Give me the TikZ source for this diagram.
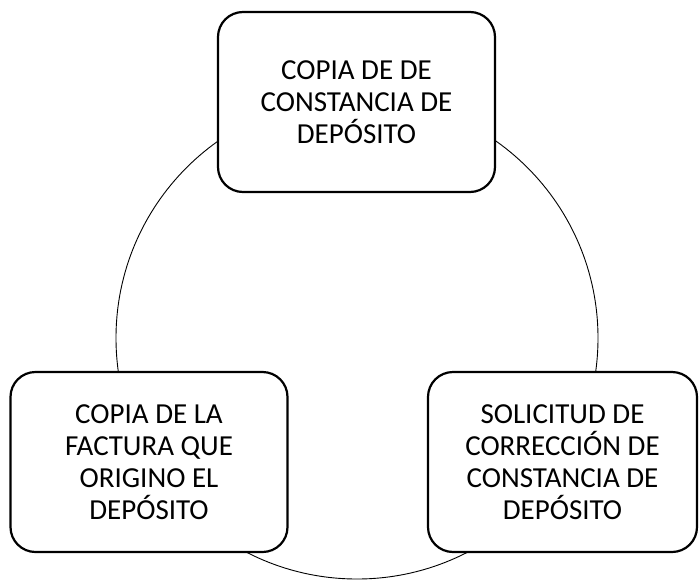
\documentclass[tikz,border=0pt]{standalone}
\usepackage{fontspec}
\setmainfont{Carlito}
\begin{document}
\begin{tikzpicture}[x=1pt,y=-1pt,
  box/.style={draw, line width=2.2pt, rounded corners=25pt, fill=white,
    minimum width=277pt, minimum height=180pt, align=center,
    font=\fontsize{29}{32}\selectfont, inner sep=0pt},
  ring/.style={draw, line width=0.9pt}]
\useasboundingbox (0,0) rectangle (699,581);
\coordinate (c) at (357,338);
\draw[ring] (c) circle[radius=241pt];
\node[box] (top) at (356.5,102) {COPIA DE DE\\CONSTANCIA DE\\DEPÓSITO};
\node[box] (left) at (149,462) {COPIA DE LA\\FACTURA QUE\\ORIGINO EL\\DEPÓSITO};
\node[box, minimum width=269pt] (right) at (562.5,462) {SOLICITUD DE\\CORRECCIÓN DE\\CONSTANCIA DE\\DEPÓSITO};
\end{tikzpicture}
\end{document}
